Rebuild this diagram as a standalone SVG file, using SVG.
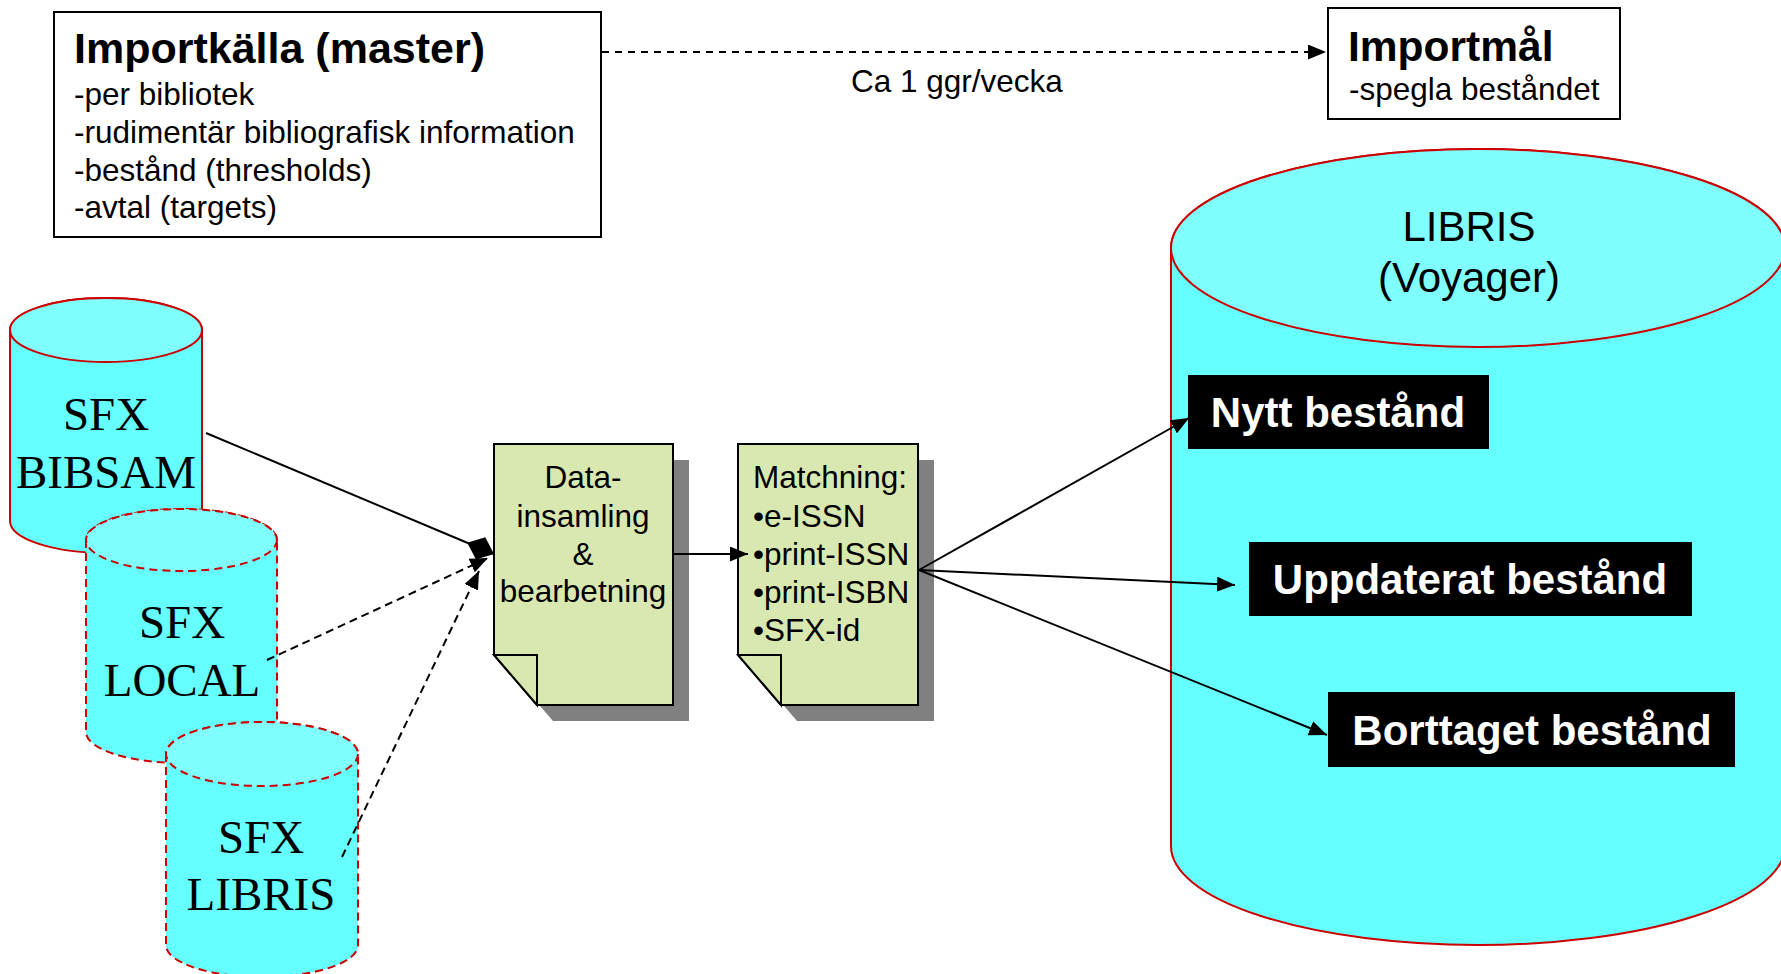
<svg xmlns="http://www.w3.org/2000/svg" width="1781" height="974" viewBox="0 0 1781 974">
<style>
.box{fill:#fff;stroke:#000;stroke-width:2}
.t{font-family:"Liberation Sans",Arial,sans-serif;fill:#000}
.b{font-weight:bold}
.serif{font-family:"Liberation Serif","Times New Roman",serif;font-size:47px;fill:#000;text-anchor:middle}
.cylbody{fill:#66FFFF;stroke:#CC0000;stroke-width:2}
.cyltop{fill:#80FFFF;stroke:#CC0000;stroke-width:2}
.dash{stroke-dasharray:8 5}
.note{fill:#D8E8B0;stroke:#000;stroke-width:2;stroke-linejoin:miter}
.shadow{fill:#808080}
.lbl{fill:#000}
.lbltxt{font-family:"Liberation Sans",Arial,sans-serif;font-weight:bold;font-size:42px;fill:#fff;text-anchor:middle}
.conn{stroke:#000;stroke-width:2;fill:none}
</style>
<defs>
<marker id="arr" markerUnits="userSpaceOnUse" markerWidth="19" markerHeight="15" refX="18" refY="7.5" orient="auto">
<path d="M0,0 L18,7.5 L0,15 Z" fill="#000"/>
</marker>
<marker id="dia" markerUnits="userSpaceOnUse" markerWidth="30" markerHeight="24" refX="29" refY="12" orient="auto">
<path d="M0,12 L14.5,0 L29,12 L14.5,24 Z" fill="#000"/>
</marker>
</defs>

<g id="importkalla">
<rect class="box" x="54" y="12" width="547" height="225"/>
<text class="t b" x="74" y="63" font-size="43">Importkälla (master)</text>
<text class="t" x="74" y="105" font-size="31.5">-per bibliotek</text>
<text class="t" x="74" y="143" font-size="31.5">-rudimentär bibliografisk information</text>
<text class="t" x="74" y="181" font-size="31.5">-bestånd (thresholds)</text>
<text class="t" x="74" y="218" font-size="31.5">-avtal (targets)</text>
</g>

<g id="importmal">
<rect class="box" x="1328" y="8" width="292" height="111"/>
<text class="t b" x="1348" y="61" font-size="42.5">Importmål</text>
<text class="t" x="1349" y="100" font-size="31.5">-spegla beståndet</text>
</g>

<g id="libris-db">
<path class="cylbody" d="M1171,248 V846 A307 99 0 0 0 1785 846 V248 A307 99 0 0 0 1171 248 Z"/>
<ellipse class="cyltop" cx="1478" cy="248" rx="307" ry="99"/>
<text class="t" x="1469" y="241" font-size="42" text-anchor="middle">LIBRIS</text>
<text class="t" x="1469" y="292" font-size="42" text-anchor="middle">(Voyager)</text>
</g>

<g id="nytt">
<rect class="lbl" x="1188" y="375" width="301" height="74"/>
<text class="lbltxt" x="1338" y="427">Nytt bestånd</text>
</g>
<g id="uppdaterat">
<rect class="lbl" x="1249" y="542" width="443" height="74"/>
<text class="lbltxt" x="1470" y="594">Uppdaterat bestånd</text>
</g>
<g id="borttaget">
<rect class="lbl" x="1328" y="692" width="407" height="75"/>
<text class="lbltxt" x="1532" y="745">Borttaget bestånd</text>
</g>

<g id="sfx-bibsam">
<path class="cylbody" d="M10,330 V521 A96 32 0 0 0 202 521 V330 A96 32 0 0 0 10 330 Z"/>
<ellipse class="cyltop" cx="106" cy="330" rx="96" ry="32"/>
<text class="serif" x="106" y="430">SFX</text>
<text class="serif" x="106" y="488">BIBSAM</text>
</g>

<g id="sfx-local">
<path class="cylbody dash" d="M86,540 V732 A95.5 31 0 0 0 277 732 V540 A95.5 31 0 0 0 86 540 Z"/>
<ellipse class="cyltop dash" cx="181.5" cy="540" rx="95.5" ry="31"/>
<text class="serif" x="182" y="638">SFX</text>
<text class="serif" x="182" y="696">LOCAL</text>
</g>

<g id="sfx-libris">
<path class="cylbody dash" d="M166,754 V945 A96 32 0 0 0 358 945 V754 A96 32 0 0 0 166 754 Z"/>
<ellipse class="cyltop dash" cx="262" cy="754" rx="96" ry="32"/>
<text class="serif" x="261" y="853">SFX</text>
<text class="serif" x="261" y="910">LIBRIS</text>
</g>

<g id="datainsamling">
<polygon class="shadow" points="510,460 689,460 689,721 553,721 510,671"/>
<polygon class="note" points="494,444 673,444 673,705 537,705 494,655"/>
<polygon class="note" points="494,655 537,655 537,705"/>
<g class="t" font-size="31.5" text-anchor="middle">
<text x="583" y="488">Data-</text>
<text x="583" y="527">insamling</text>
<text x="583" y="565">&amp;</text>
<text x="583" y="602">bearbetning</text>
</g>
</g>

<g id="matchning">
<polygon class="shadow" points="754,460 934,460 934,721 797,721 754,671"/>
<polygon class="note" points="738,444 918,444 918,705 781,705 738,655"/>
<polygon class="note" points="738,655 781,655 781,705"/>
<g class="t" font-size="31.5">
<text x="753" y="488">Matchning:</text>
<text x="753" y="527">•e-ISSN</text>
<text x="753" y="565">•print-ISSN</text>
<text x="753" y="603">•print-ISBN</text>
<text x="753" y="641">•SFX-id</text>
</g>
</g>

<g id="connectors">
<line class="conn dash" x1="602" y1="52" x2="1326" y2="52" marker-end="url(#arr)" style="stroke-dasharray:7 6"/>
<text class="t" x="851" y="92" font-size="31.5">Ca 1 ggr/vecka</text>
<line class="conn" x1="206" y1="433" x2="494" y2="554" marker-end="url(#dia)"/>
<line class="conn dash" x1="267" y1="660" x2="488" y2="558" marker-end="url(#arr)"/>
<line class="conn dash" x1="342" y1="857" x2="479" y2="571" marker-end="url(#arr)"/>
<line class="conn" x1="673" y1="554" x2="748" y2="554" marker-end="url(#arr)"/>
<line class="conn" x1="919" y1="570" x2="1189" y2="418" marker-end="url(#arr)"/>
<line class="conn" x1="919" y1="570" x2="1235" y2="585" marker-end="url(#arr)"/>
<line class="conn" x1="919" y1="570" x2="1327" y2="735" marker-end="url(#arr)"/>
</g>
</svg>
